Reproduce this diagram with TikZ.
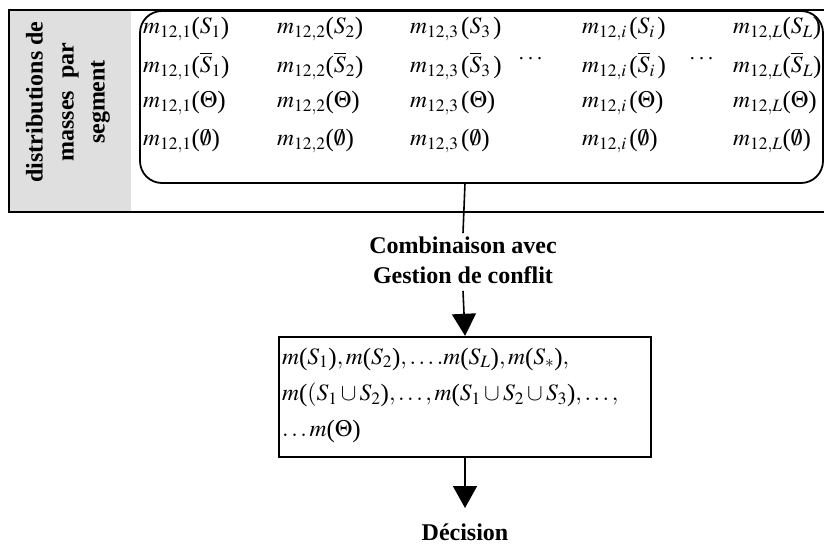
\documentclass[tikz,border=0pt]{standalone}
\usepackage{mathptmx}
\usepackage{fontspec}
\setmainfont{Liberation Serif}
\usetikzlibrary{arrows.meta}
\newcommand\lpr{\mathopen{\mbox{\fontsize{25}{26}\selectfont\raisebox{-1pt}{(}}}}
\newcommand\rpr{\mathclose{\mbox{\fontsize{25}{26}\selectfont\raisebox{-1pt}{)}}}}
\begin{document}
\begin{tikzpicture}[x=1pt,y=-1pt,
  frame/.style={line width=2.6pt},
  entry/.style={anchor=west,inner sep=0pt,font=\fontsize{23.5}{26}\selectfont},
  lbl/.style={font=\fontsize{24}{31}\selectfont\bfseries,align=center},
  conn/.style={line width=1.6pt},
  arr/.style={line width=1.6pt,-{Triangle[length=22pt,width=24pt]}}]
\useasboundingbox (0,0) rectangle (824,546);
\fill[gray!25] (10,11) rectangle (131,211);
\draw[frame] (9,10) rectangle (840,212);
\draw[line width=1.8pt,rounded corners=22pt] (140,11) rectangle (823,183);
\node[lbl,rotate=90] (side) at (68,102) {distributions de\\masses~~par\\segment};
% matrix entries
\foreach \c/\x/\s/\g in {1/143/1/,2/277/2/,3/410/3/\,,i/582/i/\,,L/733/L/}{
  \node[entry] (a\c) at (\x,29) {$m_{12,\s}\g\lpr S_{\s}\g\rpr$};
  \node[entry] (b\c) at (\x,66) {$m_{12,\s}\g\lpr\overline{S}_{\s}\g\rpr$};
  \node[entry] (c\c) at (\x,103) {$m_{12,\s}\g\lpr\Theta\rpr$};
  \node[entry] (d\c) at (\x,141) {$m_{12,\s}\g\lpr\emptyset\rpr$};
}
\node[entry] (dots1) at (518,59) {$\cdots$};
\node[entry] (dots2) at (689,59) {$\cdots$};
\coordinate (top) at (465,183);
\node[lbl,font=\fontsize{24}{30}\selectfont\bfseries] (comb) at (463,260) {Combinaison avec\\Gestion de conflit};
\node[draw,line width=2.4pt,minimum width=372pt,minimum height=120pt,inner sep=0pt] (res) at (465,397) {};
\node[anchor=west,inner sep=0pt,font=\fontsize{23.5}{26}\selectfont] (l1) at (282,359) {$m\lpr S_1\rpr,m\lpr S_2\rpr,\ldots.m\lpr S_L\rpr,m\lpr S_*\rpr,$};
\node[anchor=west,inner sep=0pt,font=\fontsize{23.5}{26}\selectfont] (l2) at (282,395) {$m\lpr(S_1\cup S_2\rpr,\ldots,m\lpr S_1\cup S_2\cup S_3\rpr,\ldots,$};
\node[anchor=west,inner sep=0pt,font=\fontsize{23.5}{26}\selectfont] (l3) at (282,431) {$\ldots m\lpr\Theta\rpr$};
\node[lbl] (dec) at (465,532) {Décision};
\coordinate (de) at (465,508);
\draw[conn] (top) -- (comb.north);
\draw[arr] ([yshift=-4pt]comb.south) -- (res.north);
\draw[arr] (res.south) -- (de);
\end{tikzpicture}
\end{document}
